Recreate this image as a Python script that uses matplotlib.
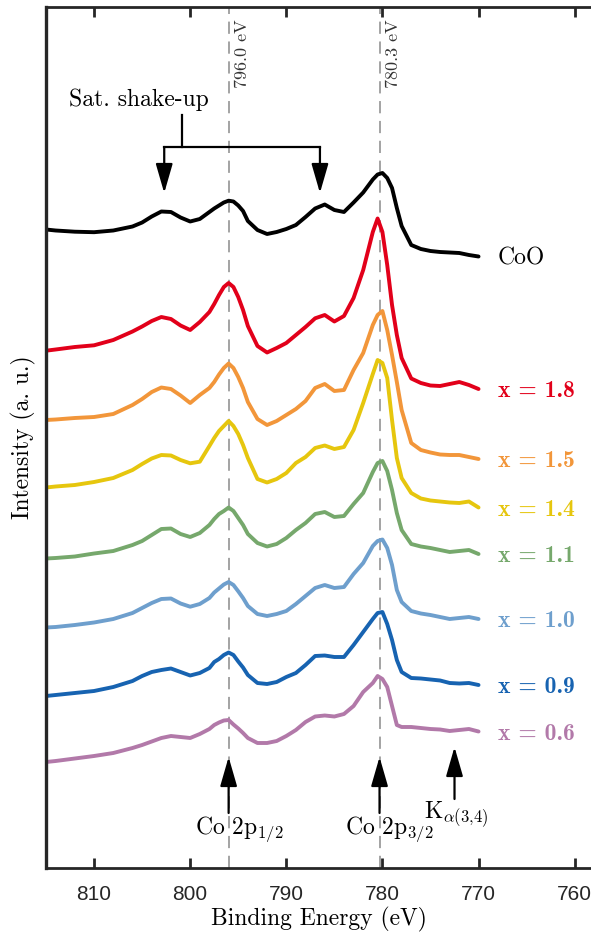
import matplotlib
matplotlib.use('Agg')
import matplotlib.pyplot as plt

plt.rcParams['mathtext.fontset'] = 'cm'

# binding energies (eV) where the spectra were sampled
energy = [815, 814, 812, 810, 808, 806, 805, 804, 803, 802, 801, 800, 799, 798, 797.5, 797,
          796.5, 796, 795.5, 795, 794.5, 794, 793, 792, 791, 790, 789, 788, 787, 786, 785, 784,
          783, 782, 781, 780.5, 780, 779.5, 779, 778.5, 778, 777, 776, 775, 774, 773, 772, 771, 770]

# stacked intensities (a. u.), top to bottom
coo = [638.5, 637.5, 636.3, 635.8, 637.5, 641.5, 645.5, 651.5, 656.5, 656, 650.5, 646.5, 649, 656, 659.5, 662.5,
       665.5, 667.3, 666.5, 662.5, 657, 647, 638, 634, 636, 639, 643, 651, 659.5, 663.5, 658, 656,
       665.5, 675.5, 688.5, 693.5, 695, 690, 680, 660, 642, 623, 619, 617, 616, 615.5, 615, 613, 611.5]
x18 = [517.3, 518.5, 521, 522.7, 528, 536.5, 541.5, 547, 551, 549, 542.5, 538, 546, 556, 564, 573,
       581, 585, 581, 571, 558, 542, 522, 515.5, 520, 525, 533, 541, 549.7, 553, 546.5, 552,
       570, 598, 636, 649.5, 636, 603, 563, 533, 510, 489.5, 485, 482.5, 482, 484, 486, 483, 479]
x15 = [448, 448.5, 450, 451, 454, 463, 469, 476, 480.5, 479, 472.5, 465, 473, 480, 486, 493.5,
       500, 504.5, 500, 491, 480, 466, 449, 443, 447, 453, 459, 467, 480, 484, 477, 478,
       498, 515, 543, 553, 557, 538, 513, 486, 458, 425, 418, 415.5, 413.5, 413, 413, 411, 409]
x14 = [380.5, 381.5, 383, 386, 390, 398, 404, 409.5, 413, 412.5, 408, 404.7, 406.3, 422, 430, 437,
       442, 447, 442, 434, 423, 410, 389, 385.5, 389, 395, 405, 411, 420, 422.5, 419, 421,
       438, 465, 494, 508, 505, 490, 448, 410, 390, 375, 369.5, 367.5, 366.5, 365.5, 365, 366.5, 360.5]
x11 = [309.5, 310, 311.5, 314.5, 317, 323, 327, 333, 339, 339.5, 334, 331, 335, 343, 349, 354,
       357, 360.5, 357, 350, 343, 334, 325, 321.5, 324, 330, 338, 345, 354, 356, 351, 352,
       364, 375, 396, 405, 407, 397, 378, 355, 338, 324, 321.5, 320, 318, 316, 317, 318, 314]
x10 = [240.5, 241, 243, 245.5, 249, 255, 260, 265, 269, 269.5, 264.5, 261.3, 264, 270, 275.5, 279.5,
       283.5, 286, 283, 276.7, 270, 262, 254, 252, 254, 257, 264, 272, 280, 283, 280, 281,
       294, 305, 322, 327, 328.5, 320, 303, 278, 266, 257, 254.5, 253, 251, 249, 250, 251, 249]
x09 = [172, 173, 175, 177, 181, 187, 192, 196, 198, 199.5, 196, 192.5, 195, 200, 206, 209,
       213, 215.5, 213, 206.5, 200.5, 193, 185, 184, 186, 191, 195, 203, 212, 212.5, 211, 211,
       223, 236, 249, 255, 256, 244, 228, 208, 196, 190, 189.5, 188.5, 187.5, 185, 184.5, 185, 183]
x06 = [106, 107, 109.5, 112, 115, 120, 123, 126.5, 130, 132, 131, 130, 134, 139, 143, 145.5,
       147.5, 148, 143.5, 139.5, 135, 130, 125, 125, 127, 132, 138, 146, 151.5, 152.5, 151.5, 154,
       162, 176, 185, 192, 189, 181, 162, 143, 141, 141, 140, 139, 138.5, 137, 138, 139, 136.5]

spectra = [coo, x18, x15, x14, x11, x10, x09, x06]
names = ['CoO', 'x = 1.8', 'x = 1.5', 'x = 1.4', 'x = 1.1', 'x = 1.0', 'x = 0.9', 'x = 0.6']
fonts = ['cmr10'] + ['cmb10'] * 7
colors = ['#000000', '#E2001A', '#F2963A', '#E6C60E', '#76A86C', '#6E9FCD', '#1763B1', '#B279A9']

peaks = [796.0, 780.3]
peak_text = ['796.0 eV', '780.3 eV']

fig = plt.figure(figsize=(5.91, 9.34), dpi=100)
ax = fig.add_axes([46 / 591, 66 / 934, 545 / 591, 861 / 934])

for e in peaks:
    ax.axvline(e, color='#8a8a8a', lw=1.1, dashes=(8, 5), zorder=0)
for e, t in zip(peaks, peak_text):
    ax.text(e - 0.6, 849, t, rotation=90, ha='left', va='top', fontsize=13,
            family='cmr10', color='#333333')

for s, n, f, c in zip(spectra, names, fonts, colors):
    ax.plot(energy, s, color=c, lw=2.8, solid_joinstyle='round', solid_capstyle='round')
    ax.text(768.0, s[-1] - 2, n, color=c, fontsize=17, family=f, ha='left', va='center')

arrow = dict(arrowstyle='-|>,head_length=0.9,head_width=0.26', lw=1.6, color='k',
             shrinkA=0, shrinkB=0, mutation_scale=20)

# satellite bracket
ax.text(805.3, 768, 'Sat. shake-up', fontsize=17, family='cmr10', ha='center', va='center')
ax.plot([800.85, 800.85], [753, 721], color='k', lw=1.6)
ax.plot([802.7, 786.5], [721, 721], color='k', lw=1.6)
for e in [802.7, 786.5]:
    ax.annotate('', xy=(e, 675), xytext=(e, 721), arrowprops=arrow)

# main lines and K alpha satellite
for e in [796.0, 780.3]:
    ax.annotate('', xy=(e, 111), xytext=(e, 55), arrowprops=arrow)
ax.annotate('', xy=(772.5, 121), xytext=(772.5, 69), arrowprops=arrow)
ax.text(794.9, 39, r'Co 2p$_{1/2}$', fontsize=17, family='cmr10', ha='center', va='center')
ax.text(779.3, 39, r'Co 2p$_{3/2}$', fontsize=17, family='cmr10', ha='center', va='center')
ax.text(772.3, 54, r'K$_{\alpha(3{,}4)}$', fontsize=17, family='cmr10', ha='center', va='center')

ax.set_xlim(815, 758.3)
ax.set_ylim(0, 861)
ax.set_xticks([810, 800, 790, 780, 770, 760])
ax.set_yticks([])
ax.tick_params(axis='x', direction='in', top=True, length=7, width=2, labelsize=15,
               pad=12, color='#262626')
for lbl in ax.get_xticklabels():
    lbl.set_fontfamily('Liberation Sans')
    lbl.set_color('#262626')
for side in ['left', 'bottom', 'top']:
    ax.spines[side].set_linewidth(2)
    ax.spines[side].set_color('#262626')
ax.spines['left'].set_linewidth(2.4)
ax.spines['right'].set_visible(False)

ax.set_xlabel('Binding Energy (eV)', fontsize=17, family='cmr10', labelpad=2)
ax.set_ylabel('Intensity (a. u.)', fontsize=17, family='cmr10', labelpad=7)

fig.savefig('out.png', dpi=100)
